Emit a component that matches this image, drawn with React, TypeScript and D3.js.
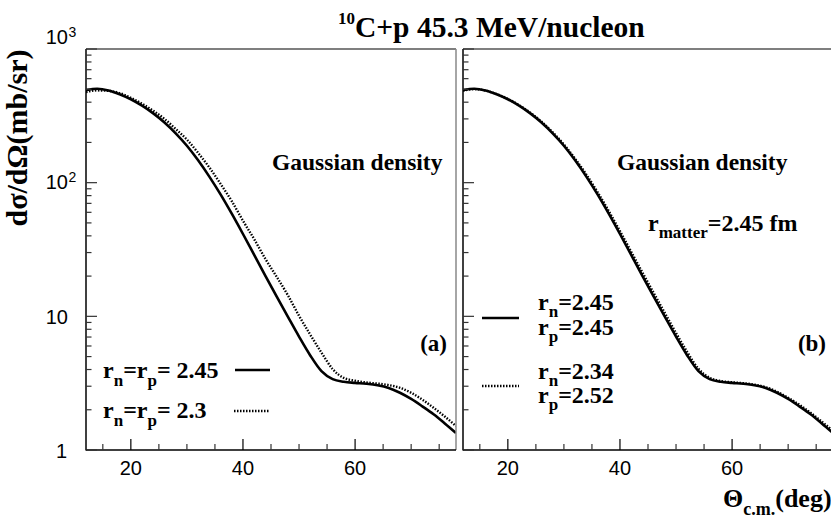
import React from "react";
import * as d3 from "d3";

const angles = [12, 14, 16, 18, 20, 22, 24, 26, 28, 30, 32, 34, 36, 38, 40, 42, 44, 46, 48, 50, 52, 54, 56, 58, 60, 62, 64, 66, 68, 70, 72, 74, 76, 78];
const sigmaR245 = [492, 504, 490, 459, 421, 377, 330, 282, 234, 189, 147, 111, 81.7, 58.6, 41.3, 28.8, 20.1, 14.1, 9.95, 7.05, 5.1, 3.89, 3.39, 3.24, 3.18, 3.13, 3.05, 2.91, 2.68, 2.41, 2.12, 1.85, 1.58, 1.34];
const sigmaR23 = [476, 490, 486, 468, 431, 389, 345, 300, 252, 210, 167, 130, 98, 72.8, 51.9, 37.8, 26.9, 19.8, 14.4, 10.1, 7.29, 5.36, 4.03, 3.46, 3.3, 3.2, 3.14, 3.06, 2.92, 2.68, 2.38, 2.07, 1.78, 1.51];
const sigmaRn234Rp252 = [488, 501, 489, 460, 423, 380, 334, 286, 238, 193, 151, 115, 85, 61.3, 43.4, 30.4, 21.3, 15.0, 10.6, 7.5, 5.4, 4.05, 3.47, 3.28, 3.21, 3.16, 3.08, 2.95, 2.73, 2.46, 2.18, 1.9, 1.63, 1.39];

const xMajorTicks = [20, 40, 60];
const xMinorTicks = [15, 25, 30, 35, 45, 50, 55, 65, 70, 75];
const yDecades = [1, 10, 100, 1000];
const yLabels = [
  { v: 1000, base: "10", exp: "3" },
  { v: 100, base: "10", exp: "2" },
  { v: 10, base: "10", exp: "" },
  { v: 1, base: "1", exp: "" },
];

const SERIF = "'Liberation Serif', 'Times New Roman', serif";
const SANS = "'Liberation Sans', Arial, Helvetica, sans-serif";

const yScale = d3.scaleLog().domain([1, 1000]).range([450, 49]);

function Panel({ x0, x1, id, curves }: { x0: number; x1: number; id: string; curves: { data: number[]; dash?: string }[] }) {
  const xScale = d3.scaleLinear().domain([12, 78]).range([x0, x1]);
  const line = d3
    .line<[number, number]>()
    .x((d) => xScale(d[0]))
    .y((d) => yScale(d[1]))
    .curve(d3.curveMonotoneX);
  const yMinor: number[] = [];
  [1, 10, 100].forEach((dec) => {
    for (let k = 2; k <= 9; k++) yMinor.push(dec * k);
  });
  return (
    <g>
      <defs>
        <clipPath id={id}>
          <rect x={x0} y={49} width={x1 - x0} height={401} />
        </clipPath>
      </defs>
      <g clipPath={`url(#${id})`}>
        {curves.map((c, i) => (
          <path
            key={i}
            d={line(angles.map((a, j) => [a, c.data[j]] as [number, number])) || ""}
            fill="none"
            stroke="#000"
            strokeWidth={c.dash ? 2.4 : 2.6}
            strokeDasharray={c.dash}
          />
        ))}
      </g>
      <line x1={x0} x2={x1} y1={49} y2={49} stroke="#000" strokeWidth={1.2} />
      <line x1={x1} x2={x1} y1={49} y2={450} stroke="#888" strokeWidth={1.5} />
      <line x1={x0} x2={x0} y1={49} y2={450.5} stroke="#000" strokeWidth={1.5} />
      <line x1={x0} x2={x1} y1={450} y2={450} stroke="#000" strokeWidth={1.5} />
      {yDecades.map((v) => (
        <line key={"ym" + v} x1={x0} x2={x0 + 11} y1={yScale(v)} y2={yScale(v)} stroke="#333" strokeWidth={1.2} />
      ))}
      {yMinor.map((v) => (
        <line key={"yn" + v} x1={x0} x2={x0 + 5.5} y1={yScale(v)} y2={yScale(v)} stroke="#333" strokeWidth={1.2} />
      ))}
      {xMajorTicks.map((v) => (
        <line key={"xm" + v} x1={xScale(v)} x2={xScale(v)} y1={450} y2={439} stroke="#000" strokeWidth={1.2} />
      ))}
      {xMinorTicks.map((v) => (
        <line key={"xn" + v} x1={xScale(v)} x2={xScale(v)} y1={450} y2={444} stroke="#333" strokeWidth={1.2} />
      ))}
      {xMajorTicks.map((v) => (
        <text key={"xl" + v} x={xScale(v)} y={475} textAnchor="middle" fontFamily={SANS} fontSize={20}>
          {v}
        </text>
      ))}
    </g>
  );
}

export default function App() {
  const B = { fontFamily: SERIF, fontWeight: "bold" as const };
  return (
    <svg width={831} height={522} style={{ position: "absolute", left: 0, top: 0, background: "#fff" }}>
      <rect width={831} height={522} fill="#fff" />
      {/* Title */}
      <text x={338} y={37} {...B} fontSize={29.5}>
        <tspan fontSize={17} dy={-13}>10</tspan>
        <tspan dy={13}>C+p 45.3 MeV/nucleon</tspan>
      </text>
      {/* Y axis title */}
      <text transform="translate(27,138) rotate(-90)" textAnchor="middle" {...B} fontSize={30}>
        dσ/dΩ(mb/sr)
      </text>
      {/* y tick labels: mantissa right-aligned at x=68, exponent sticks out */}
      {yLabels.map((l) => {
        const yy = yScale(l.v);
        const baseY = l.v === 1000 ? 44 : l.exp ? yy + 6.5 : yy + 8;
        return (
          <g key={"yl" + l.v}>
            <text x={l.base === "1" ? 67 : 68} y={baseY} textAnchor="end" fontFamily={SANS} fontSize={20}>
              {l.base}
            </text>
            {l.exp && (
              <text x={68.5} y={baseY - 7} fontFamily={SANS} fontSize={14}>
                {l.exp}
              </text>
            )}
          </g>
        );
      })}

      <Panel x0={86} x1={456} id="clipA" curves={[{ data: sigmaR245 }, { data: sigmaR23, dash: "1.5 1.5" }]} />
      <Panel x0={463} x1={833} id="clipB" curves={[{ data: sigmaR245 }, { data: sigmaRn234Rp252, dash: "1.5 1.5" }]} />

      {/* Panel (a) texts */}
      <text x={272} y={170} {...B} fontSize={23.5}>Gaussian density</text>
      <text x={447} y={351} textAnchor="end" {...B} fontSize={23}>(a)</text>
      <text x={103} y={378} {...B} fontSize={24}>
        r<tspan fontSize={17} dy={8}>n</tspan>
        <tspan dy={-8}>=r</tspan>
        <tspan fontSize={17} dy={8}>p</tspan>
        <tspan dy={-8}>= 2.45</tspan>
      </text>
      <line x1={235} x2={270} y1={370} y2={370} stroke="#000" strokeWidth={2.6} />
      <text x={103} y={418} {...B} fontSize={24}>
        r<tspan fontSize={17} dy={8}>n</tspan>
        <tspan dy={-8}>=r</tspan>
        <tspan fontSize={17} dy={8}>p</tspan>
        <tspan dy={-8}>= 2.3</tspan>
      </text>
      <line x1={234} x2={270} y1={411} y2={411} stroke="#000" strokeWidth={2.4} strokeDasharray="1.5 1.5" />

      {/* Panel (b) texts */}
      <text x={617} y={170} {...B} fontSize={23.5}>Gaussian density</text>
      <text x={648} y={231} {...B} fontSize={24}>
        r<tspan fontSize={17} dy={7}>matter</tspan>
        <tspan dy={-7}>=2.45 fm</tspan>
      </text>
      <text x={826} y={351} textAnchor="end" {...B} fontSize={23}>(b)</text>
      <line x1={482} x2={519} y1={318} y2={318} stroke="#000" strokeWidth={2.6} />
      <text x={538} y={310} {...B} fontSize={24}>
        r<tspan fontSize={17} dy={7}>n</tspan>
        <tspan dy={-7}>=2.45</tspan>
        <tspan x={538} dy={25}>r</tspan>
        <tspan fontSize={17} dy={7}>p</tspan>
        <tspan dy={-7}>=2.45</tspan>
      </text>
      <line x1={482} x2={519} y1={386} y2={386} stroke="#000" strokeWidth={2.4} strokeDasharray="1.5 1.5" />
      <text x={538} y={379} {...B} fontSize={24}>
        r<tspan fontSize={17} dy={7}>n</tspan>
        <tspan dy={-7}>=2.34</tspan>
        <tspan x={538} dy={24}>r</tspan>
        <tspan fontSize={17} dy={7}>p</tspan>
        <tspan dy={-7}>=2.52</tspan>
      </text>

      {/* X axis title */}
      <text x={723} y={507} {...B} fontSize={26}>
        Θ<tspan fontSize={18} dy={8}>c.m.</tspan>
        <tspan dy={-8}>(deg)</tspan>
      </text>
    </svg>
  );
}
